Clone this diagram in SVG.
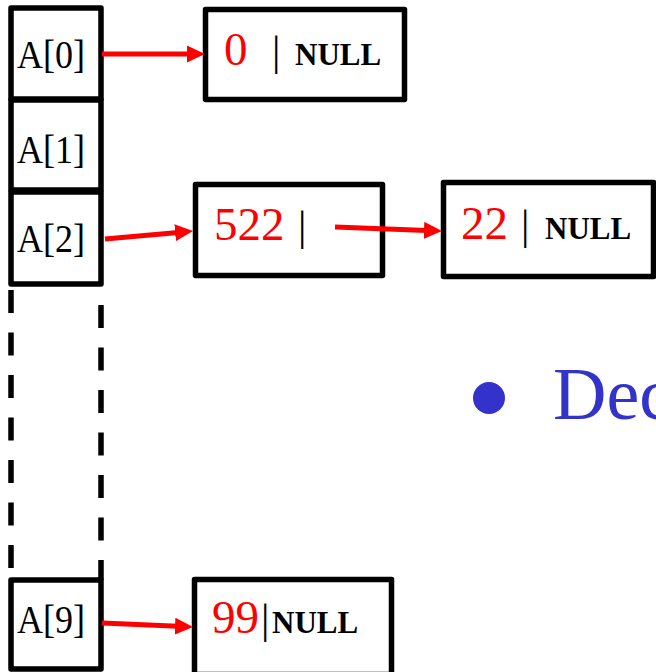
<svg xmlns="http://www.w3.org/2000/svg" width="656" height="672" viewBox="0 0 656 672">
<style>
.box{fill:#fff;stroke:#000;stroke-width:5.5;stroke-linejoin:round}
.lbl{font-family:"Liberation Serif",serif;font-size:40px;fill:#000}
.num{font-family:"Liberation Serif",serif;font-size:47px;fill:#ff0000}
.bar{font-family:"Liberation Serif",serif;font-size:42px;fill:#000}
.nul{font-family:"Liberation Serif",serif;font-size:31px;font-weight:bold;fill:#000}
.arr{stroke:#ff0000;stroke-width:5;fill:none;marker-end:url(#ah)}
.dash{stroke:#000;stroke-width:5.5;stroke-dasharray:23 19.5;fill:none}
</style>
<defs>
<marker id="ah" markerUnits="userSpaceOnUse" markerWidth="18" markerHeight="17" viewBox="0 0 18 17" refX="3" refY="8.5" orient="auto">
<path d="M0,0 L18,8.5 L0,17 z" fill="#ff0000"/>
</marker>
</defs>
<rect width="656" height="672" fill="#fff"/>
<g id="dashes">
<line class="dash" x1="11" y1="290" x2="11" y2="580"/>
<line class="dash" x1="101" y1="305" x2="101" y2="580"/>
</g>
<g id="A0"><rect class="box" x="11" y="8" width="90" height="91"/><text class="lbl" x="17" y="68" textLength="68" lengthAdjust="spacingAndGlyphs">A[0]</text></g>
<g id="A1"><rect class="box" x="11" y="100" width="90" height="90"/><text class="lbl" x="17" y="163" textLength="68" lengthAdjust="spacingAndGlyphs">A[1]</text></g>
<g id="A2"><rect class="box" x="11" y="192" width="90" height="92"/><text class="lbl" x="17" y="252" textLength="68" lengthAdjust="spacingAndGlyphs">A[2]</text></g>
<g id="A9"><rect class="box" x="11" y="580" width="90" height="89"/><text class="lbl" x="17" y="633" textLength="68" lengthAdjust="spacingAndGlyphs">A[9]</text></g>
<g id="n0"><rect class="box" x="205.5" y="9.5" width="199" height="90"/><text class="num" x="224" y="65">0</text><text class="bar" x="272" y="65">|</text><text class="nul" x="295" y="65">NULL</text></g>
<g id="n522"><rect class="box" x="195.5" y="184.5" width="187" height="91"/><text class="num" x="214" y="240">522</text><text class="bar" x="298" y="240">|</text></g>
<g id="n22"><rect class="box" x="443.5" y="182.5" width="210" height="94"/><text class="num" x="461" y="239">22</text><text class="bar" x="521" y="239">|</text><text class="nul" x="545" y="239">NULL</text></g>
<g id="n99"><rect class="box" x="194.5" y="579.5" width="197" height="95"/><text class="num" x="212" y="633">99</text><text class="bar" x="261" y="633">|</text><text class="nul" x="272" y="633">NULL</text></g>
<g id="connectors">
<path class="arr" d="M102,54 L190,54"/>
<path class="arr" d="M105,239 L178.1,232.4"/>
<path class="arr" d="M335,227 L427,230.4"/>
<path class="arr" d="M102,623 L178,626.3"/>
</g>
<g id="bullet">
<circle cx="489" cy="398" r="16" fill="#3333cc"/>
<text x="553" y="419" font-family="Liberation Serif,serif" font-size="74" fill="#3333cc">Dec</text>
</g>
</svg>
